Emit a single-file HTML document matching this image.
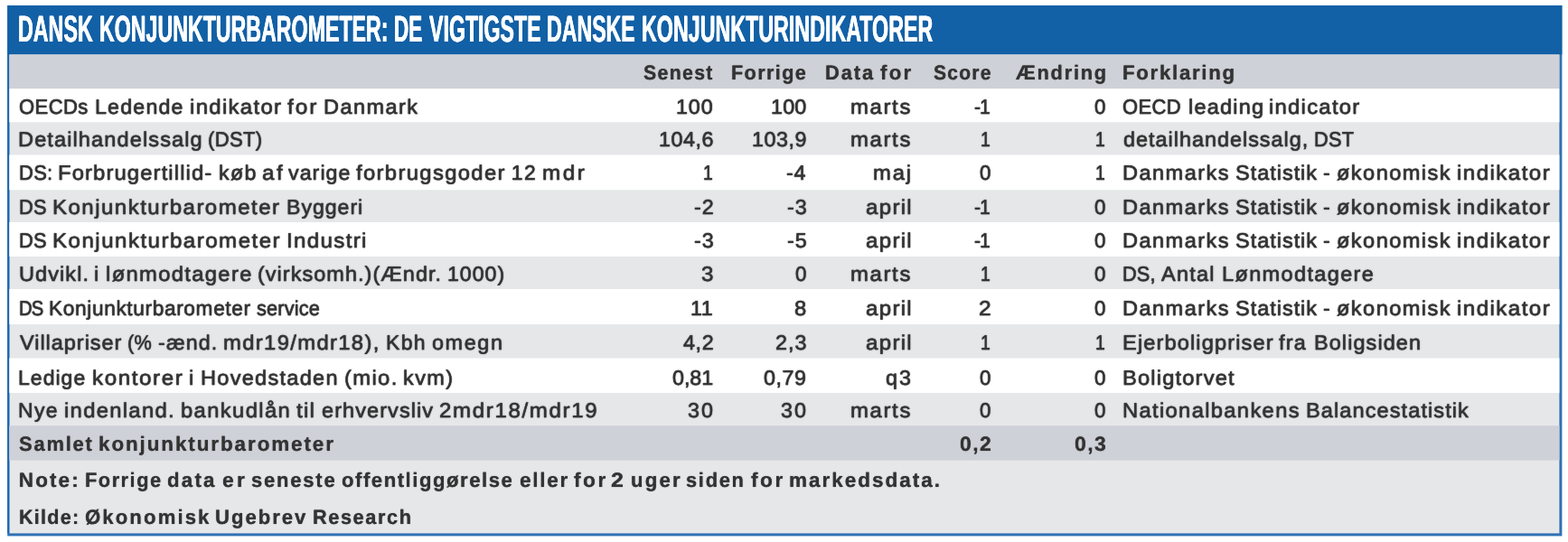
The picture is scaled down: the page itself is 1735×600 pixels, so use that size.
<!DOCTYPE html>
<html lang="da">
<head>
<meta charset="utf-8">
<title>Dansk konjunkturbarometer</title>
<style>
html,body{margin:0;padding:0;background:#fff;}
body{width:1735px;height:600px;position:relative;overflow:hidden;font-family:'Liberation Sans', sans-serif;color:#333333;text-rendering:geometricPrecision;}
#page{position:absolute;left:0;top:0;width:1735px;height:600px;background:#fff;}
.bg{position:absolute;left:0;top:0;width:1735px;height:600px;}
.c{position:absolute;left:0;top:0;white-space:nowrap;font-size:22.9px;line-height:1;-webkit-text-stroke:0.45px #333333;text-shadow:0 0 1.5px #333333;}
.c span{position:absolute;top:0;transform-origin:0 0;}
.b{font-weight:bold;font-size:22.5px;-webkit-text-stroke:0.0px #333333;text-shadow:0 0 1.0px #333333;}
.ttl{font-family:'Liberation Sans', sans-serif;font-weight:bold;font-size:41.2px;color:#fff;-webkit-text-stroke:0;text-shadow:0.45px 0 0px #fff,-0.45px 0 0px #fff;}

</style>
</head>
<body>
<div id="page">
<svg class="bg" width="1735" height="600" viewBox="0 0 1735 600">
<rect x="8.2" y="6.0" width="1720.20" height="587.40" fill="#2f72b5"/>
<rect x="10.30" y="60.3" width="1715.10" height="530.10" fill="#e6e7e9"/>
<rect x="8.2" y="60.3" width="2.10" height="530.10" fill="#1c66ad"/>
<rect x="8.2" y="6.0" width="1720.20" height="54.30" fill="#1260a6"/>
<rect x="10.30" y="60.3" width="1715.10" height="37.90" fill="#cfd1d8"/>
<rect x="10.30" y="98.2" width="1715.10" height="37.05" fill="#ffffff"/>
<rect x="10.30" y="171.5" width="1715.10" height="38.75" fill="#ffffff"/>
<rect x="10.30" y="246.0" width="1715.10" height="38.00" fill="#ffffff"/>
<rect x="10.30" y="320.0" width="1715.10" height="39.00" fill="#ffffff"/>
<rect x="10.30" y="396.5" width="1715.10" height="38.50" fill="#ffffff"/>
<rect x="10.30" y="471.25" width="1715.10" height="38.35" fill="#cfd1d8"/>
</svg>
<div class="grp title">
<div class="c ttl" style="top:12px"><span style="left:20.20px;transform:scaleX(0.5649)">DANSK</span> <span style="left:110.15px;transform:scaleX(0.5631)">KONJUNKTURBAROMETER:</span> <span style="left:436.18px;transform:scaleX(0.5447)">DE</span> <span style="left:474.66px;transform:scaleX(0.5627)">VIGTIGSTE</span> <span style="left:605.46px;transform:scaleX(0.5621)">DANSKE</span> <span style="left:710.39px;transform:scaleX(0.5649)">KONJUNKTURINDIKATORER</span></div>
</div>
<div class="grp head">
<div class="c b" style="top:70px"><span style="left:711.57px;letter-spacing:1.39px;transform:scaleX(0.9468)">Senest</span></div>
<div class="c b" style="top:70px"><span style="left:809.15px;letter-spacing:1.43px;transform:scaleX(0.9630)">Forrige</span></div>
<div class="c b" style="top:70px"><span style="left:912.83px;letter-spacing:1.95px;transform:scaleX(0.9712)">Data</span> <span style="left:973.93px;letter-spacing:2.20px;transform:scaleX(0.9944)">for</span></div>
<div class="c b" style="top:70px"><span style="left:1033.37px;letter-spacing:1.30px;transform:scaleX(0.9381)">Score</span></div>
<div class="c b" style="top:70px"><span style="left:1124.40px;letter-spacing:1.81px;transform:scaleX(0.9683)">Ændring</span></div>
<div class="c b" style="top:70px"><span style="left:1241.81px;letter-spacing:1.71px;transform:scaleX(0.9894)">Forklaring</span></div>
</div>
<div class="grp row1">
<div class="c" style="top:107px"><span style="left:21.18px;letter-spacing:0.44px;transform:scaleX(0.9628)">OECDs</span> <span style="left:105.13px;letter-spacing:1.15px;transform:scaleX(1.0156)">Ledende</span> <span style="left:210.07px;letter-spacing:1.23px;transform:scaleX(1.0491)">indikator</span> <span style="left:317.94px;letter-spacing:1.83px;transform:scaleX(1.0679)">for</span> <span style="left:357.58px;letter-spacing:1.40px;transform:scaleX(1.0269)">Danmark</span></div>
<div class="c" style="top:107px"><span style="left:748.42px;letter-spacing:0.84px;transform:scaleX(1.0200)">100</span></div>
<div class="c" style="top:107px"><span style="left:852.67px;letter-spacing:0.15px;transform:scaleX(1.0200)">100</span></div>
<div class="c" style="top:107px"><span style="left:941.21px;letter-spacing:1.55px;transform:scaleX(1.0462)">marts</span></div>
<div class="c" style="top:107px"><span style="left:1077.95px;letter-spacing:-1.00px;transform:scaleX(0.9247)">-1</span></div>
<div class="c" style="top:107px"><span style="left:1210.52px;transform:scaleX(0.9748)">0</span></div>
<div class="c" style="top:107px"><span style="left:1242.49px;letter-spacing:0.43px;transform:scaleX(0.9597)">OECD</span> <span style="left:1315.02px;letter-spacing:1.14px;transform:scaleX(1.0305)">leading</span> <span style="left:1404.36px;letter-spacing:1.18px;transform:scaleX(1.0449)">indicator</span></div>
</div>
<div class="grp row2">
<div class="c" style="top:143px"><span style="left:20.39px;letter-spacing:1.06px;transform:scaleX(1.0305)">Detailhandelssalg</span> <span style="left:229.73px;letter-spacing:0.34px;transform:scaleX(0.9627)">(DST)</span></div>
<div class="c" style="top:143px"><span style="left:729.07px;letter-spacing:0.48px;transform:scaleX(1.0200)">104,6</span></div>
<div class="c" style="top:143px"><span style="left:831.92px;letter-spacing:0.48px;transform:scaleX(1.0200)">103,9</span></div>
<div class="c" style="top:143px"><span style="left:941.21px;letter-spacing:1.55px;transform:scaleX(1.0462)">marts</span></div>
<div class="c" style="top:143px"><span style="left:1084.97px;transform:scaleX(0.8500)">1</span></div>
<div class="c" style="top:143px"><span style="left:1211.57px;transform:scaleX(0.8500)">1</span></div>
<div class="c" style="top:143px"><span style="left:1242.80px;letter-spacing:0.95px;transform:scaleX(1.0243)">detailhandelssalg,</span> <span style="left:1454.45px;letter-spacing:0.24px;transform:scaleX(0.9511)">DST</span></div>
</div>
<div class="grp row3">
<div class="c" style="top:180px"><span style="left:20.50px;letter-spacing:0.32px;transform:scaleX(0.9580)">DS:</span> <span style="left:64.41px;letter-spacing:1.05px;transform:scaleX(1.0426)">Forbrugertillid-</span> <span style="left:241.74px;letter-spacing:1.38px;transform:scaleX(1.0123)">køb</span> <span style="left:290.28px;letter-spacing:2.32px;transform:scaleX(1.0564)">af</span> <span style="left:318.50px;letter-spacing:1.00px;transform:scaleX(1.0169)">varige</span> <span style="left:394.02px;letter-spacing:1.28px;transform:scaleX(1.0417)">forbrugsgoder</span> <span style="left:565.76px;letter-spacing:1.52px;">12</span> <span style="left:600.09px;letter-spacing:2.41px;transform:scaleX(1.0594)">mdr</span></div>
<div class="c" style="top:180px"><span style="left:777.72px;transform:scaleX(0.8500)">1</span></div>
<div class="c" style="top:180px"><span style="left:870.40px;letter-spacing:0.77px;transform:scaleX(1.0200)">-4</span></div>
<div class="c" style="top:180px"><span style="left:966.39px;letter-spacing:1.79px;transform:scaleX(1.0387)">maj</span></div>
<div class="c" style="top:180px"><span style="left:1083.92px;transform:scaleX(0.9748)">0</span></div>
<div class="c" style="top:180px"><span style="left:1211.57px;transform:scaleX(0.8500)">1</span></div>
<div class="c" style="top:180px"><span style="left:1241.69px;letter-spacing:1.39px;transform:scaleX(1.0303)">Danmarks</span> <span style="left:1366.78px;letter-spacing:0.93px;transform:scaleX(1.0286)">Statistik</span> <span style="left:1464.11px;transform:scaleX(1.0083)">-</span> <span style="left:1479.28px;letter-spacing:1.36px;transform:scaleX(1.0329)">økonomisk</span> <span style="left:1612.42px;letter-spacing:1.33px;transform:scaleX(1.0577)">indikator</span></div>
</div>
<div class="grp row4">
<div class="c" style="top:218px"><span style="left:20.51px;letter-spacing:0.30px;transform:scaleX(0.9506)">DS</span> <span style="left:58.24px;letter-spacing:1.39px;transform:scaleX(1.0515)">Konjunkturbarometer</span> <span style="left:316.69px;letter-spacing:0.94px;transform:scaleX(1.0121)">Byggeri</span></div>
<div class="c" style="top:218px"><span style="left:767.80px;letter-spacing:0.88px;transform:scaleX(1.0200)">-2</span></div>
<div class="c" style="top:218px"><span style="left:870.65px;letter-spacing:0.88px;transform:scaleX(1.0200)">-3</span></div>
<div class="c" style="top:218px"><span style="left:957.75px;letter-spacing:1.23px;transform:scaleX(1.0523)">april</span></div>
<div class="c" style="top:218px"><span style="left:1077.95px;letter-spacing:-1.00px;transform:scaleX(0.9247)">-1</span></div>
<div class="c" style="top:218px"><span style="left:1210.52px;transform:scaleX(0.9748)">0</span></div>
<div class="c" style="top:218px"><span style="left:1241.69px;letter-spacing:1.39px;transform:scaleX(1.0303)">Danmarks</span> <span style="left:1366.78px;letter-spacing:0.93px;transform:scaleX(1.0286)">Statistik</span> <span style="left:1464.11px;transform:scaleX(1.0083)">-</span> <span style="left:1479.28px;letter-spacing:1.36px;transform:scaleX(1.0329)">økonomisk</span> <span style="left:1612.42px;letter-spacing:1.33px;transform:scaleX(1.0577)">indikator</span></div>
</div>
<div class="grp row5">
<div class="c" style="top:255px"><span style="left:20.51px;letter-spacing:0.34px;transform:scaleX(0.9518)">DS</span> <span style="left:58.33px;letter-spacing:1.40px;transform:scaleX(1.0528)">Konjunkturbarometer</span> <span style="left:317.35px;letter-spacing:1.25px;transform:scaleX(1.0552)">Industri</span></div>
<div class="c" style="top:255px"><span style="left:767.80px;letter-spacing:0.88px;transform:scaleX(1.0200)">-3</span></div>
<div class="c" style="top:255px"><span style="left:870.65px;letter-spacing:0.88px;transform:scaleX(1.0200)">-5</span></div>
<div class="c" style="top:255px"><span style="left:957.75px;letter-spacing:1.23px;transform:scaleX(1.0523)">april</span></div>
<div class="c" style="top:255px"><span style="left:1077.95px;letter-spacing:-1.00px;transform:scaleX(0.9247)">-1</span></div>
<div class="c" style="top:255px"><span style="left:1210.52px;transform:scaleX(0.9748)">0</span></div>
<div class="c" style="top:255px"><span style="left:1241.69px;letter-spacing:1.39px;transform:scaleX(1.0303)">Danmarks</span> <span style="left:1366.78px;letter-spacing:0.93px;transform:scaleX(1.0286)">Statistik</span> <span style="left:1464.11px;transform:scaleX(1.0083)">-</span> <span style="left:1479.28px;letter-spacing:1.36px;transform:scaleX(1.0329)">økonomisk</span> <span style="left:1612.42px;letter-spacing:1.33px;transform:scaleX(1.0577)">indikator</span></div>
</div>
<div class="grp row6">
<div class="c" style="top:292px"><span style="left:20.76px;letter-spacing:1.02px;transform:scaleX(1.0287)">Udvikl.</span> <span style="left:104.40px;transform:scaleX(1.0384)">i</span> <span style="left:117.03px;letter-spacing:1.30px;transform:scaleX(1.0376)">lønmodtagere</span> <span style="left:285.21px;letter-spacing:1.01px;transform:scaleX(1.0254)">(virksomh.)(Ændr.</span> <span style="left:494.97px;letter-spacing:1.02px;transform:scaleX(1.0088)">1000)</span></div>
<div class="c" style="top:292px"><span style="left:776.03px;transform:scaleX(1.0570)">3</span></div>
<div class="c" style="top:292px"><span style="left:879.52px;transform:scaleX(0.9748)">0</span></div>
<div class="c" style="top:292px"><span style="left:941.21px;letter-spacing:1.55px;transform:scaleX(1.0462)">marts</span></div>
<div class="c" style="top:292px"><span style="left:1084.97px;transform:scaleX(0.8500)">1</span></div>
<div class="c" style="top:292px"><span style="left:1210.52px;transform:scaleX(0.9748)">0</span></div>
<div class="c" style="top:292px"><span style="left:1241.81px;letter-spacing:0.17px;transform:scaleX(0.9499)">DS,</span> <span style="left:1285.37px;letter-spacing:1.18px;transform:scaleX(1.0275)">Antal</span> <span style="left:1351.60px;letter-spacing:1.27px;transform:scaleX(1.0307)">Lønmodtagere</span></div>
</div>
<div class="grp row7">
<div class="c" style="top:330px"><span style="left:20.62px;letter-spacing:-1.00px;transform:scaleX(0.8831)">DS</span> <span style="left:54.10px;letter-spacing:0.63px;transform:scaleX(0.9911)">Konjunkturbarometer</span> <span style="left:284.04px;letter-spacing:0.14px;transform:scaleX(0.9518)">service</span></div>
<div class="c" style="top:330px"><span style="left:764.02px;letter-spacing:0.39px;transform:scaleX(1.0200)">11</span></div>
<div class="c" style="top:330px"><span style="left:879.09px;transform:scaleX(1.0397)">8</span></div>
<div class="c" style="top:330px"><span style="left:957.75px;letter-spacing:1.23px;transform:scaleX(1.0523)">april</span></div>
<div class="c" style="top:330px"><span style="left:1083.09px;transform:scaleX(1.0729)">2</span></div>
<div class="c" style="top:330px"><span style="left:1210.52px;transform:scaleX(0.9748)">0</span></div>
<div class="c" style="top:330px"><span style="left:1241.69px;letter-spacing:1.39px;transform:scaleX(1.0303)">Danmarks</span> <span style="left:1366.78px;letter-spacing:0.93px;transform:scaleX(1.0286)">Statistik</span> <span style="left:1464.11px;transform:scaleX(1.0083)">-</span> <span style="left:1479.28px;letter-spacing:1.36px;transform:scaleX(1.0329)">økonomisk</span> <span style="left:1612.42px;letter-spacing:1.33px;transform:scaleX(1.0577)">indikator</span></div>
</div>
<div class="grp row8">
<div class="c" style="top:368px"><span style="left:22.23px;letter-spacing:0.93px;transform:scaleX(1.0281)">Villapriser</span> <span style="left:141.21px;letter-spacing:0.20px;transform:scaleX(0.9481)">(%</span> <span style="left:175.21px;letter-spacing:1.13px;transform:scaleX(1.0151)">-ænd.</span> <span style="left:247.12px;letter-spacing:1.30px;transform:scaleX(1.0401)">mdr19/mdr18),</span> <span style="left:426.72px;letter-spacing:1.30px;transform:scaleX(1.0049)">Kbh</span> <span style="left:477.80px;letter-spacing:1.52px;transform:scaleX(1.0246)">omegn</span></div>
<div class="c" style="top:368px"><span style="left:755.81px;letter-spacing:0.58px;transform:scaleX(1.0200)">4,2</span></div>
<div class="c" style="top:368px"><span style="left:857.93px;letter-spacing:0.94px;transform:scaleX(1.0200)">2,3</span></div>
<div class="c" style="top:368px"><span style="left:957.75px;letter-spacing:1.23px;transform:scaleX(1.0523)">april</span></div>
<div class="c" style="top:368px"><span style="left:1084.97px;transform:scaleX(0.8500)">1</span></div>
<div class="c" style="top:368px"><span style="left:1211.57px;transform:scaleX(0.8500)">1</span></div>
<div class="c" style="top:368px"><span style="left:1241.68px;letter-spacing:1.04px;transform:scaleX(1.0356)">Ejerboligpriser</span> <span style="left:1415.22px;letter-spacing:1.21px;transform:scaleX(1.0246)">fra</span> <span style="left:1454.39px;letter-spacing:1.04px;transform:scaleX(1.0261)">Boligsiden</span></div>
</div>
<div class="grp row9">
<div class="c" style="top:407px"><span style="left:20.42px;letter-spacing:0.97px;transform:scaleX(1.0092)">Ledige</span> <span style="left:102.20px;letter-spacing:1.48px;transform:scaleX(1.0587)">kontorer</span> <span style="left:209.41px;transform:scaleX(1.0410)">i</span> <span style="left:222.10px;letter-spacing:1.24px;transform:scaleX(1.0292)">Hovedstaden</span> <span style="left:380.62px;letter-spacing:1.28px;transform:scaleX(1.0412)">(mio.</span> <span style="left:445.62px;letter-spacing:1.39px;transform:scaleX(1.0238)">kvm)</span></div>
<div class="c" style="top:407px"><span style="left:743.50px;letter-spacing:-0.10px;transform:scaleX(1.0200)">0,81</span></div>
<div class="c" style="top:407px"><span style="left:845.40px;letter-spacing:0.48px;transform:scaleX(1.0200)">0,79</span></div>
<div class="c" style="top:407px"><span style="left:979.80px;letter-spacing:2.02px;transform:scaleX(1.0191)">q3</span></div>
<div class="c" style="top:407px"><span style="left:1083.92px;transform:scaleX(0.9748)">0</span></div>
<div class="c" style="top:407px"><span style="left:1210.52px;transform:scaleX(0.9748)">0</span></div>
<div class="c" style="top:407px"><span style="left:1241.68px;letter-spacing:1.10px;transform:scaleX(1.0374)">Boligtorvet</span></div>
</div>
<div class="grp row10">
<div class="c" style="top:443px"><span style="left:20.43px;letter-spacing:1.31px;transform:scaleX(1.0049)">Nye</span> <span style="left:71.46px;letter-spacing:1.23px;transform:scaleX(1.0421)">indenland.</span> <span style="left:199.73px;letter-spacing:1.33px;transform:scaleX(1.0379)">bankudlån</span> <span style="left:328.05px;letter-spacing:1.06px;transform:scaleX(1.0703)">til</span> <span style="left:355.68px;letter-spacing:1.02px;transform:scaleX(1.0289)">erhvervsliv</span> <span style="left:485.66px;letter-spacing:1.57px;transform:scaleX(1.0514)">2mdr18/mdr19</span></div>
<div class="c" style="top:443px"><span style="left:761.05px;letter-spacing:2.03px;transform:scaleX(1.0200)">30</span></div>
<div class="c" style="top:443px"><span style="left:863.90px;letter-spacing:2.03px;transform:scaleX(1.0200)">30</span></div>
<div class="c" style="top:443px"><span style="left:941.21px;letter-spacing:1.55px;transform:scaleX(1.0462)">marts</span></div>
<div class="c" style="top:443px"><span style="left:1083.92px;transform:scaleX(0.9748)">0</span></div>
<div class="c" style="top:443px"><span style="left:1210.52px;transform:scaleX(0.9748)">0</span></div>
<div class="c" style="top:443px"><span style="left:1241.67px;letter-spacing:1.26px;transform:scaleX(1.0393)">Nationalbankens</span> <span style="left:1444.97px;letter-spacing:1.02px;transform:scaleX(1.0321)">Balancestatistik</span></div>
</div>
<div class="grp sum">
<div class="c b" style="top:481px"><span style="left:20.66px;letter-spacing:1.85px;transform:scaleX(0.9739)">Samlet</span> <span style="left:108.83px;letter-spacing:1.91px;transform:scaleX(0.9974)">konjunkturbarometer</span></div>
<div class="c b" style="top:481px"><span style="left:1062.03px;letter-spacing:1.39px;transform:scaleX(1.0200)">0,2</span></div>
<div class="c b" style="top:481px"><span style="left:1188.63px;letter-spacing:1.39px;transform:scaleX(1.0200)">0,3</span></div>
</div>
<div class="grp note">
<div class="c b" style="top:521px"><span style="left:20.80px;letter-spacing:2.09px;">Note:</span> <span style="left:93.58px;letter-spacing:1.53px;transform:scaleX(0.9703)">Forrige</span> <span style="left:185.30px;letter-spacing:2.22px;transform:scaleX(0.9907)">data</span> <span style="left:246.47px;letter-spacing:3.39px;transform:scaleX(1.0097)">er</span> <span style="left:278.30px;letter-spacing:1.81px;transform:scaleX(0.9785)">seneste</span> <span style="left:378.49px;letter-spacing:1.54px;transform:scaleX(0.9842)">offentliggørelse</span> <span style="left:574.89px;letter-spacing:1.77px;">eller</span> <span style="left:634.71px;letter-spacing:2.46px;transform:scaleX(1.0101)">for</span> <span style="left:676.42px;transform:scaleX(1.1153)">2</span> <span style="left:697.82px;letter-spacing:2.22px;transform:scaleX(0.9866)">uger</span> <span style="left:759.44px;letter-spacing:1.76px;transform:scaleX(0.9720)">siden</span> <span style="left:830.74px;letter-spacing:2.46px;transform:scaleX(1.0101)">for</span> <span style="left:873.00px;letter-spacing:2.00px;">markedsdata.</span></div>
</div>
<div class="grp kilde">
<div class="c b" style="top:562px"><span style="left:20.85px;letter-spacing:1.30px;transform:scaleX(0.9597)">Kilde:</span> <span style="left:93.64px;letter-spacing:2.12px;transform:scaleX(0.9851)">Økonomisk</span> <span style="left:238.48px;letter-spacing:2.02px;transform:scaleX(0.9824)">Ugebrev</span> <span style="left:346.13px;letter-spacing:1.64px;transform:scaleX(0.9655)">Research</span></div>
</div>
</div>
</body>
</html>
